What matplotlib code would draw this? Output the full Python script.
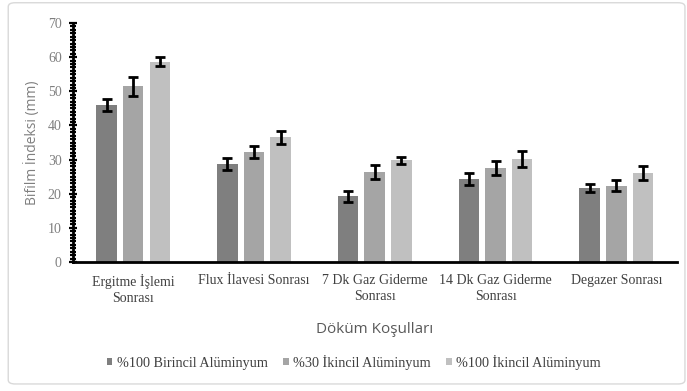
import numpy as np
import matplotlib.pyplot as plt
from matplotlib.ticker import MultipleLocator
from matplotlib.patches import FancyBboxPatch

# data
categories = ['Ergitme İşlemi\nSonrası', 'Flux İlavesi Sonrası', '7 Dk Gaz Giderme\nSonrası',
              '14 Dk Gaz Giderme\nSonrası', 'Degazer Sonrası']
series_names = ['%100 Birincil Alüminyum', '%30 İkincil Alüminyum', '%100 İkincil Alüminyum']
birincil_100 = [46.0, 28.8, 19.2, 24.3, 21.7]
ikincil_30 = [51.5, 32.3, 26.3, 27.6, 22.3]
ikincil_100 = [58.7, 36.5, 29.8, 30.1, 26.0]
err_birincil_100 = [1.8, 1.8, 1.5, 1.7, 1.2]
err_ikincil_30 = [2.8, 1.7, 2.0, 2.0, 1.6]
err_ikincil_100 = [1.4, 2.0, 1.0, 2.3, 2.0]

colors = ['#7f7f7f', '#a5a5a5', '#c0c0c0']
values = [birincil_100, ikincil_30, ikincil_100]
errors = [err_birincil_100, err_ikincil_30, err_ikincil_100]

fig = plt.figure(figsize=(6.87, 3.91), dpi=100)
ax = fig.add_axes([0.106, 0.33, 0.879, 0.611])

x = np.arange(len(categories))
w = 0.17
step = 0.22
for i in range(3):
    ax.bar(x + (i - 1) * step, values[i], w, color=colors[i], label=series_names[i],
           yerr=errors[i], error_kw=dict(ecolor='black', elinewidth=2, capsize=3.5, capthick=2))

ax.set_xlim(-0.5, len(categories) - 0.5)
ax.set_ylim(0, 70)
ax.yaxis.set_major_locator(MultipleLocator(10))
ax.yaxis.set_minor_locator(MultipleLocator(1))
ax.tick_params(axis='y', which='major', direction='inout', length=6, width=1.6, color='black',
               labelsize=10, labelcolor='#7f7f7f', pad=5)
ax.tick_params(axis='y', which='minor', direction='inout', length=4, width=1.6, color='black')
ax.tick_params(axis='x', length=0, labelsize=10, labelcolor='#404040', pad=9)
ax.set_xticks(x)
ax.set_xticklabels(categories, family='Liberation Serif', linespacing=1.25)
for lbl in ax.get_yticklabels():
    lbl.set_family('Liberation Serif')

for s in ['top', 'right']:
    ax.spines[s].set_visible(False)
ax.spines['left'].set_linewidth(2)
ax.spines['bottom'].set_linewidth(2)

ax.set_ylabel('Bifilm İndeksi (mm)', family='Open Sans', fontsize=10, color='#7f7f7f', labelpad=6)
ax.set_xlabel('Döküm Koşulları', family='Open Sans', fontsize=11, color='#595959', labelpad=12)

leg = fig.legend(loc='center', bbox_to_anchor=(0.515, 0.074), ncol=3, frameon=False,
                 handlelength=0.4, handleheight=0.4, handletextpad=0.3, columnspacing=1.1,
                 prop={'family': 'Liberation Serif', 'size': 10.2})
for t in leg.get_texts():
    t.set_color('#404040')

border = FancyBboxPatch((0.012, 0.018), 0.985, 0.975, boxstyle='round,pad=0,rounding_size=0.01',
                        transform=fig.transFigure, fill=False, edgecolor='#d9d9d9', linewidth=1)
fig.patches.append(border)

fig.savefig('out.png', dpi=100)
